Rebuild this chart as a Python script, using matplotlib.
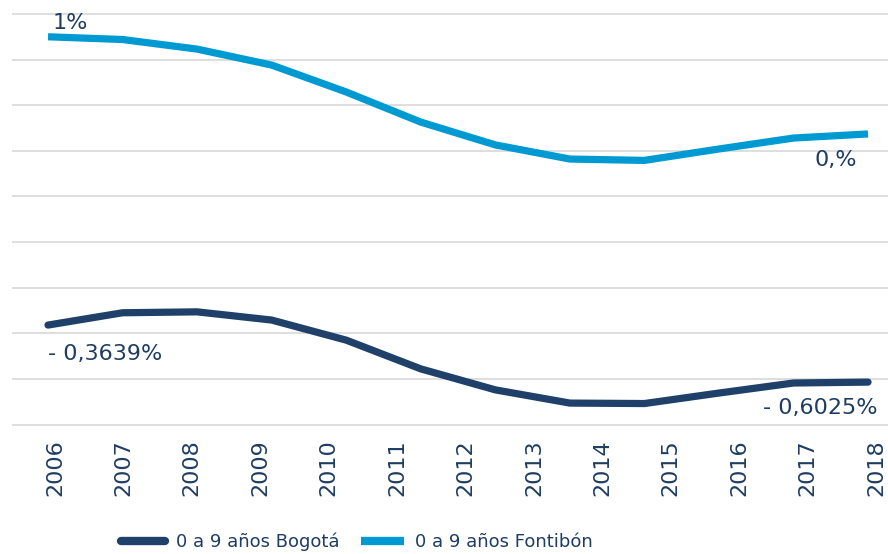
import numpy as np
import matplotlib.pyplot as plt

plt.rcParams['font.family'] = ['DejaVu Sans']

years = ['2006', '2007', '2008', '2009', '2010', '2011', '2012',
         '2013', '2014', '2015', '2016', '2017', '2018']
# 12 puntos por serie (unidades de la cuadricula)
bogota = [2.18, 2.45, 2.47, 2.29, 1.85, 1.22, 0.76, 0.47, 0.46, 0.69, 0.91, 0.93]
fontibon = [8.50, 8.44, 8.23, 7.88, 7.29, 6.63, 6.13, 5.82, 5.79, 6.04, 6.28, 6.37]
lab_bog = ['- 0,3639%', '- 0,6025%']
lab_fon = ['1%', '0,%']

navy = '#1f4068'
cyan = '#009ad2'
txt = '#1f3d63'

fig = plt.figure(figsize=(8.88, 5.54), dpi=100)
ax = fig.add_axes([12/888, 0.2296, 876/888, 0.7493])

ax.set_xlim(-0.628, 12.175)
ax.set_ylim(-0.05, 9.05)
ax.set_yticks(np.arange(10))
ax.set_xticks(np.arange(len(years)))
ax.set_xticklabels(years, rotation=90, fontsize=16, color=txt)
ax.tick_params(axis='x', length=0, pad=9)
ax.tick_params(axis='y', left=False, labelleft=False)
ax.yaxis.grid(True, color='#dedede', lw=1.4)
for s in ax.spines.values():
    s.set_visible(False)

ax2 = ax.twiny()
ax2.set_xlim(-0.483, 11.268)
ax2.set_ylim(ax.get_ylim())
ax2.axis('off')
idx = np.arange(len(bogota))
l1, = ax2.plot(idx, bogota, color=navy, lw=5.2, solid_capstyle='round',
               solid_joinstyle='round', label='0 a 9 años Bogotá')
l2, = ax2.plot(idx, fontibon, color=cyan, lw=5.2, solid_capstyle='butt',
               solid_joinstyle='round', label='0 a 9 años Fontibón')

ax2.annotate(lab_fon[0], (idx[0], fontibon[0]), xytext=(3, 3),
             textcoords='offset points', ha='left', va='bottom',
             fontsize=16, color=txt)
ax2.annotate(lab_fon[1], (idx[-1], fontibon[-1]), xytext=(-8, -19),
             textcoords='offset points', ha='right', va='center',
             fontsize=16, color=txt)
ax2.annotate(lab_bog[0], (idx[0], bogota[0]), xytext=(0, -21),
             textcoords='offset points', ha='left', va='center',
             fontsize=16, color=txt)
ax2.annotate(lab_bog[1], (idx[-1], bogota[-1]), xytext=(7, -19),
             textcoords='offset points', ha='right', va='center',
             fontsize=16, color=txt)

leg = fig.legend(handles=[l1, l2], loc='center', bbox_to_anchor=(0.402, 0.022),
                 ncol=2, frameon=False, fontsize=13, handlelength=2.4,
                 handletextpad=0.6, columnspacing=1.2, borderaxespad=0)
for t in leg.get_texts():
    t.set_color(txt)
for h in leg.legend_handles:
    h.set_linewidth(6)

fig.savefig('out.png', dpi=100)
